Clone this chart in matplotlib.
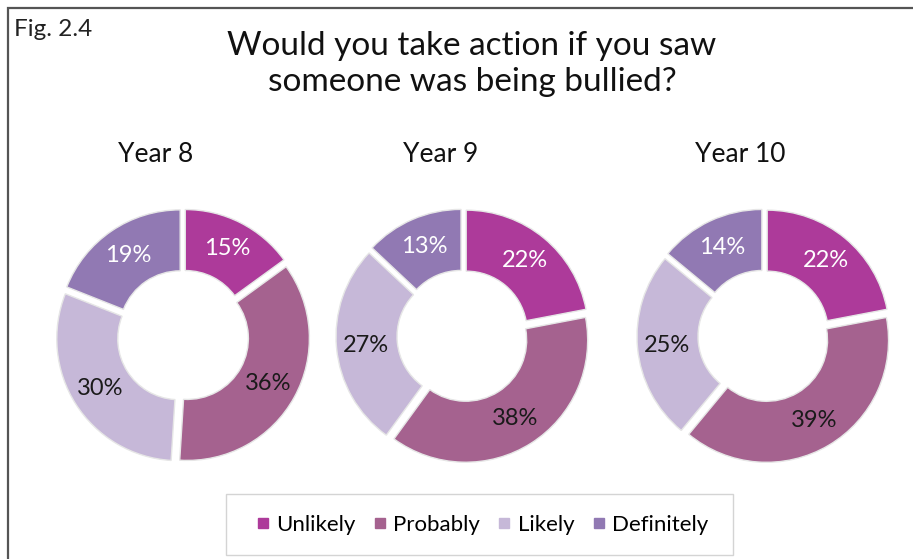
import matplotlib.pyplot as plt
from matplotlib.lines import Line2D
from matplotlib.patches import Rectangle

plt.rcParams['font.family'] = ['Lato', 'DejaVu Sans']

W, H = 913, 559

categories = ['Unlikely', 'Probably', 'Likely', 'Definitely']
colors = ['#ad3a9a', '#a5628f', '#c6b8d8', '#9179b3']
pct_colors = ['white', '#1a1a1a', '#1a1a1a', 'white']

years = ['Year 8', 'Year 9', 'Year 10']
year8 = [15, 36, 30, 19]
year9 = [22, 38, 27, 13]
year10 = [22, 39, 25, 14]

fig = plt.figure(figsize=(W / 100, H / 100), dpi=100)
ax = fig.add_axes([0, 0, 1, 1])

# everything below is placed in pixel units, y measured from the bottom
centers = [(183, H - 336), (463, H - 336), (764, H - 336)]
year_x = [156, 441, 740]
radius = 122

for vals, (cx, cy), name, yx in zip([year8, year9, year10], centers, years, year_x):
    wedges, _, pcts = ax.pie(vals, colors=colors, startangle=90, counterclock=False,
                             center=(cx, cy), radius=radius, explode=[5] * len(vals),
                             autopct=lambda p: f'{p:.0f}%', pctdistance=0.76,
                             wedgeprops=dict(width=61, edgecolor='#e6e6e6', linewidth=1),
                             textprops=dict(fontsize=17))
    for t, c in zip(pcts, pct_colors):
        t.set_color(c)
    ax.text(yx, H - 155, name, ha='center', va='center', fontsize=19, color='#111111')

ax.set_xlim(0, W)
ax.set_ylim(0, H)
ax.axis('off')

ax.text(472, H - 64, 'Would you take action if you saw\nsomeone was being bullied?',
        ha='center', va='center', fontsize=24, linespacing=1.25, color='#111111')
ax.text(14, H - 29, 'Fig. 2.4', ha='left', va='center', fontsize=17.5, color='#222222')

# frame lines at top and left
ax.plot([8, 8, W], [0, H - 8, H - 8], color='#555555', lw=1.6, solid_joinstyle='miter')

# legend
ax.add_patch(Rectangle((226, H - 555), 507, 61, fill=False, edgecolor='#d4d4d4', lw=1))
handles = [Line2D([], [], marker='s', ls='none', color=c, markersize=7) for c in colors]
ax.legend(handles, categories, loc='center', bbox_to_anchor=(480, H - 525),
          bbox_transform=ax.transData, ncol=4, frameon=False, fontsize=16,
          handletextpad=0.1, columnspacing=0.6, handlelength=1.0)

fig.savefig('out.png', dpi=100)
